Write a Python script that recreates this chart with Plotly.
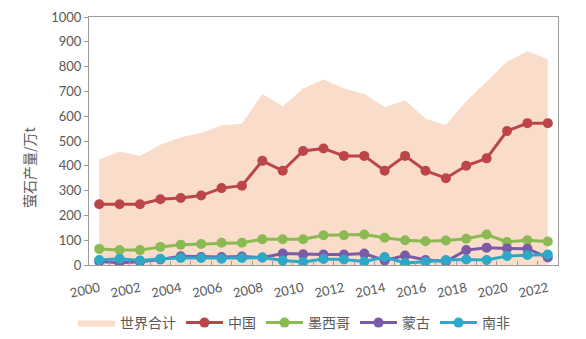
import plotly.graph_objects as go

years = list(range(2000, 2023))
world = [425, 458, 440, 485, 515, 532, 562, 570, 690, 640, 712, 748, 712, 690, 636, 664, 590, 565, 660, 740, 820, 862, 830]
china = [245, 245, 245, 265, 270, 280, 310, 320, 420, 380, 460, 470, 440, 440, 380, 440, 380, 350, 400, 430, 540, 572, 572]
mexico = [65, 60, 60, 73, 82, 85, 90, 90, 104, 104, 104, 120, 120, 123, 110, 100, 96, 99, 106, 123, 93, 100, 95]
mongolia = [14, 9, 13, 22, 35, 32, 32, 34, 30, 46, 43, 42, 42, 46, 18, 38, 20, 14, 60, 70, 67, 66, 30]
south_africa = [20, 25, 18, 25, 28, 28, 25, 28, 30, 18, 12, 24, 22, 14, 32, 8, 13, 20, 22, 20, 36, 40, 42]
names = ["世界合计", "中国", "墨西哥", "蒙古", "南非"]
y_title = "萤石产量/万t"
tick_years = list(range(2000, 2023, 2))

colors = {"中国": "#BB4548", "墨西哥": "#8CBA52", "蒙古": "#7A5BA5", "南非": "#2DA8C7"}
font_num = "Lato, 'Noto Sans CJK SC', sans-serif"
font_cjk = "'Noto Sans CJK SC', sans-serif"
gray = "#595959"

fig = go.Figure()
fig.add_trace(go.Scatter(x=years, y=world, name=names[0], mode="lines",
                         fill="tozeroy", fillcolor="#FADCCB",
                         line=dict(width=0, color="#FADCCB")))
for nm, vals in zip(names[1:], [china, mexico, mongolia, south_africa]):
    fig.add_trace(go.Scatter(x=years, y=vals, name=nm, mode="lines+markers",
                             line=dict(color=colors[nm], width=3),
                             marker=dict(color=colors[nm], size=10)))

fig.update_layout(
    width=586, height=339,
    margin=dict(l=89, r=28, t=17, b=74, autoexpand=False),
    paper_bgcolor="white", plot_bgcolor="white",
    showlegend=True,
    legend=dict(orientation="h", xref="container", x=294 / 586, xanchor="center",
                yref="container", y=(339 - 323) / 339, yanchor="middle",
                font=dict(family=font_cjk, size=14, color=gray),
                itemwidth=37, tracegroupgap=0),
    font=dict(family=font_num, color=gray),
    annotations=[dict(text=y_title, textangle=-90, xref="paper", yref="paper",
                      x=(29 - 89) / (586 - 89 - 28), y=(265 - 168) / 248,
                      xanchor="center", yanchor="middle", showarrow=False,
                      font=dict(family=font_cjk, size=14, color=gray))],
)

fig.update_xaxes(
    range=[1999.5, 2022.5], automargin=False,
    tickmode="array", tickvals=tick_years, ticktext=[str(y) for y in tick_years],
    tickangle=-12, tickfont=dict(family=font_num, size=13, color=gray),
    ticks="", ticklabelstandoff=10, showgrid=False, zeroline=False,
    showline=True, linecolor="#9A9A9A", linewidth=1, mirror=True,
    minor=dict(tickmode="array", tickvals=[y - 0.5 for y in years[1:]],
               ticks="inside", ticklen=4, tickcolor="#9A9A9A", showgrid=False),
)
fig.update_yaxes(
    range=[0, 1000], tickmode="linear", tick0=0, dtick=100, automargin=False,
    tickfont=dict(family=font_num, size=13, color=gray),
    ticks="outside", ticklen=4, tickcolor="#9A9A9A",
    showgrid=False, zeroline=False,
    showline=True, linecolor="#9A9A9A", linewidth=1, mirror=True,
)

fig.write_html("out.html")
